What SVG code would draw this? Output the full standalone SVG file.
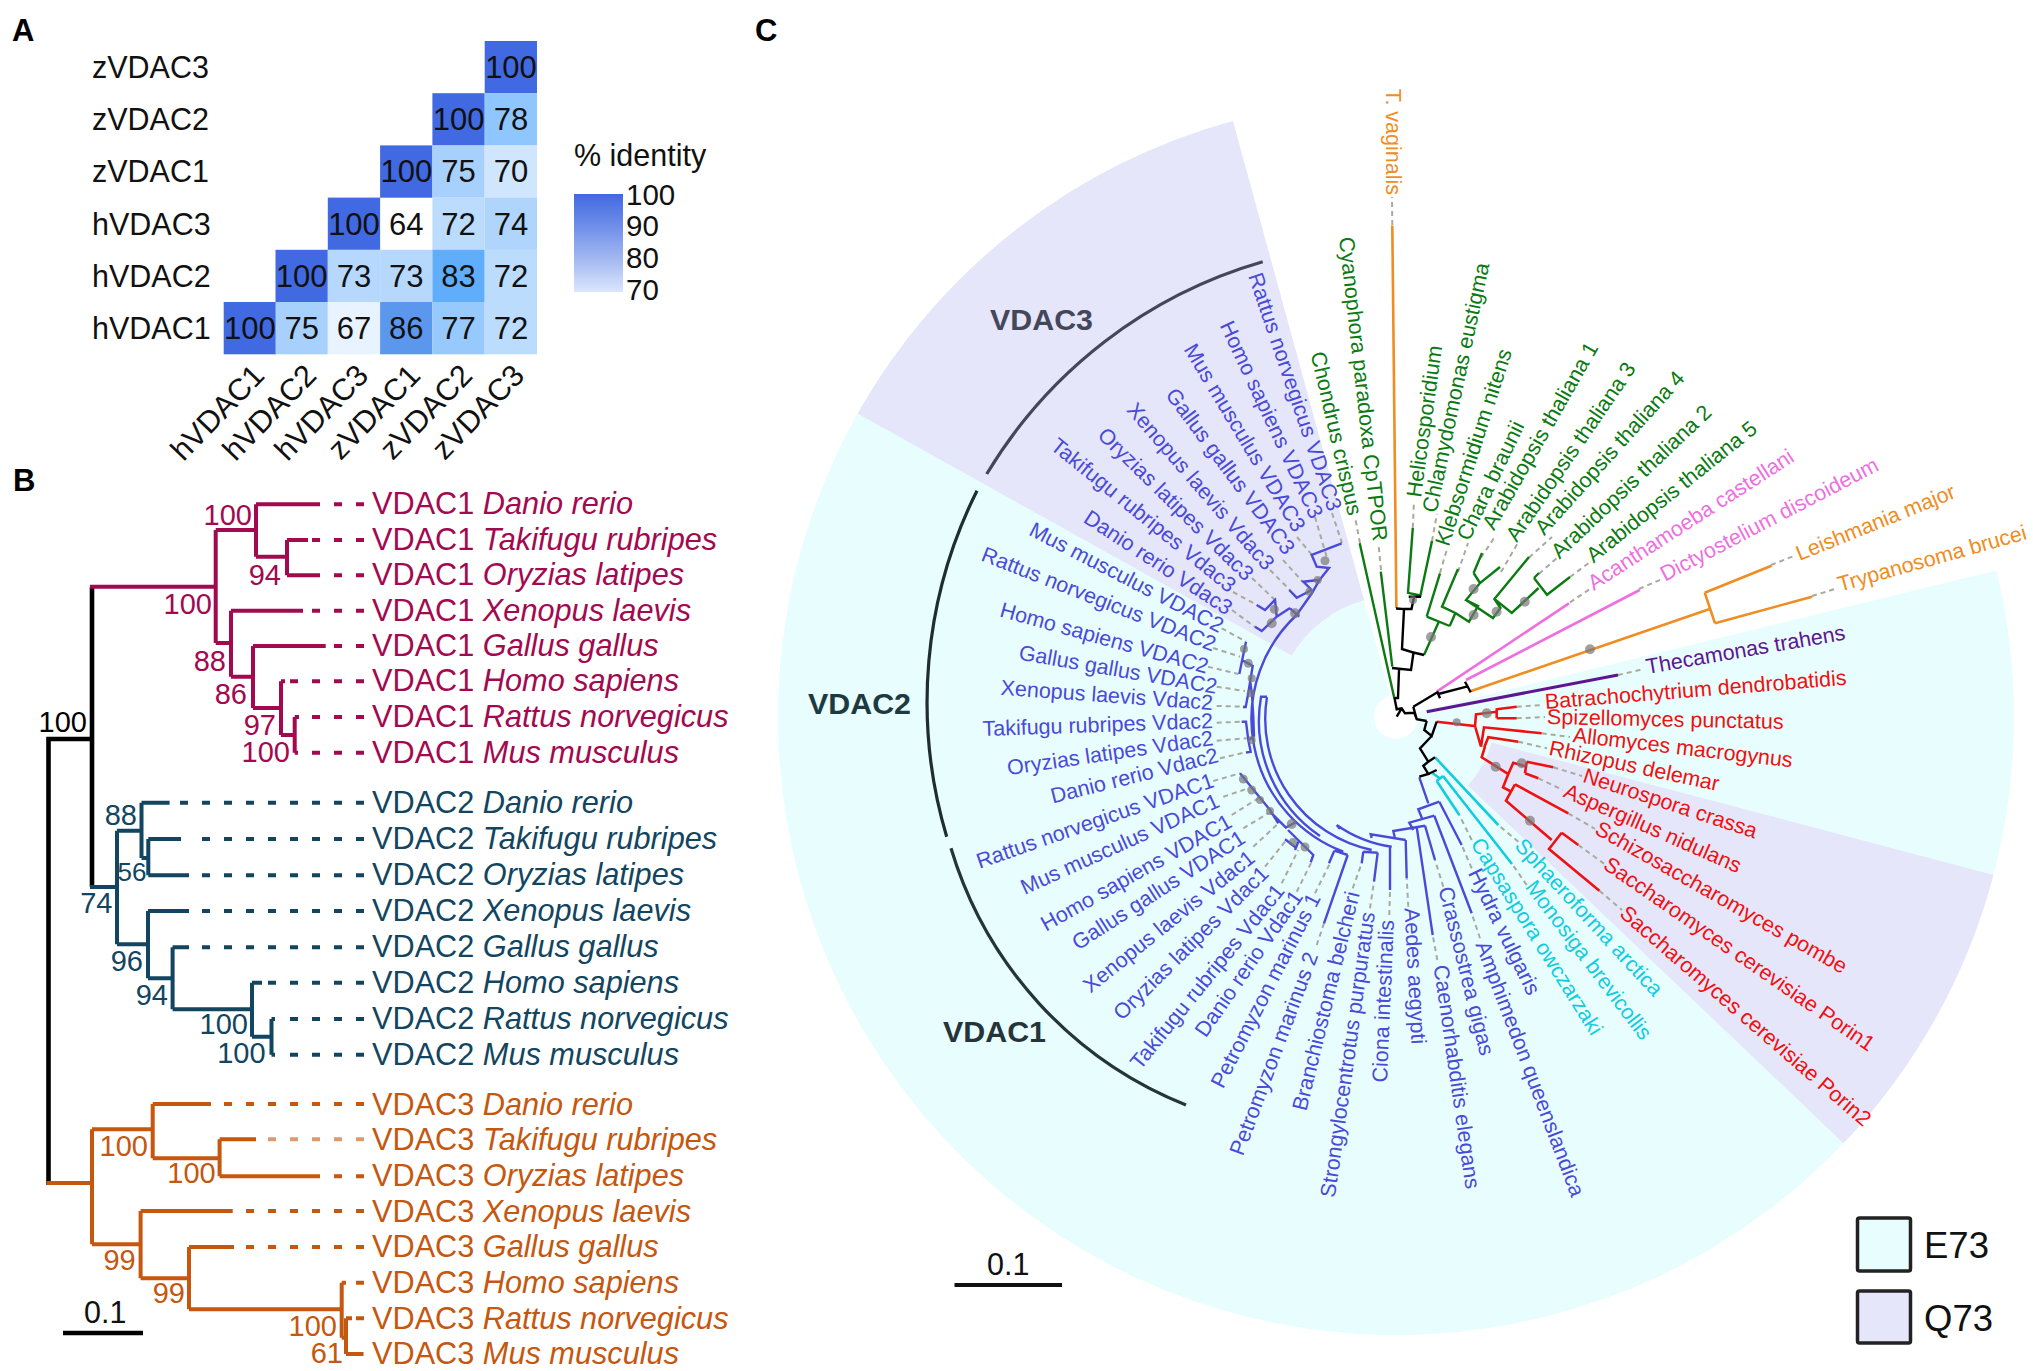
<svg xmlns="http://www.w3.org/2000/svg" width="2033" height="1371" viewBox="0 0 2033 1371">
<style>
text{font-family:"Liberation Sans",Arial,sans-serif;fill:#111}
.pl{font-size:31px;font-weight:bold;fill:#000}
.h{font-size:30.5px}
.cbl{font-size:29.5px}
.n{font-size:31px;text-anchor:middle}
.end{text-anchor:end}
.b{font-size:30.7px}
.bs{font-size:29px;text-anchor:end}
.it{font-style:italic}
.c1{fill:#a3094f}.c2{fill:#12455f}.c3{fill:#c5570f}
.s1,.s2,.s3,.s0{fill:none;stroke-width:4;stroke-linejoin:miter}
.s0{stroke:#000;stroke-width:4.6}.s1{stroke:#a3094f}.s2{stroke:#12455f}.s3{stroke:#c5570f}
.d{stroke-dasharray:8 14}
.t{font-size:21.5px;dominant-baseline:central}
.tb{fill:#4a4ad8}.tg{fill:#0b7a12}.to{fill:#ef8d22}.tp{fill:#ee6fe0}.tv{fill:#5e1590}.tr{fill:#ee1111}.tc{fill:#12ccdd}
.lb,.lg,.lo,.lp,.lv,.lr,.lc,.lk{fill:none;stroke-width:2.4}
.lb{stroke:#4a4ad8}.lg{stroke:#0b7a12}.lo{stroke:#ef8d22;stroke-width:2.6}.lp{stroke:#ee6fe0;stroke-width:2.6}.lv{stroke:#5e1590;stroke-width:3}.lr{stroke:#ee1111;stroke-width:2.6}.lc{stroke:#12ccdd;stroke-width:2.6}.lk{stroke:#000}
.ld{fill:none;stroke:#a9a99e;stroke-width:2;stroke-dasharray:5 4}
.nd{fill:#777;fill-opacity:.7}
.gl{font-size:30.4px;font-weight:bold}
</style>
<defs>
<linearGradient id="cb" x1="0" y1="0" x2="0" y2="1"><stop offset="0" stop-color="#4169e1"/><stop offset=".35" stop-color="#7391ea"/><stop offset=".7" stop-color="#a9bdf2"/><stop offset="1" stop-color="#dbe6fe"/></linearGradient>
</defs>
<rect width="2033" height="1371" fill="#fff"/>

<g id="sectors">
<path d="M1396,717 L1996.4,570.6 A618 618 0 1 1 1232.9,120.9 Z" fill="#e8fdfe"/>
<path d="M857.6,413.6 A618 618 0 0 1 1232.9,120.9 L1364.1,600.3 A121 121 0 0 0 1291.7,655.6 Z" fill="#e6e6fa"/>
<path d="M1993.5,874.9 A618 618 0 0 1 1843.5,1143.2 L1467.7,785.3 A99 99 0 0 0 1491.6,742.6 Z" fill="#e6e6fa"/>
<circle cx="1396" cy="717" r="22" fill="#fff"/>
</g>

<g id="panel-labels">
<text class="pl" x="12" y="41">A</text>
<text class="pl" x="13" y="491">B</text>
<text class="pl" x="755" y="41">C</text>
</g>

<g id="heatmap">
<rect x="484.7" y="41" width="52.3" height="52.3" fill="#4169e1"/><text class="n" x="511" y="78">100</text>
<rect x="432.4" y="93.2" width="52.3" height="52.3" fill="#4169e1"/><text class="n" x="458.6" y="130.2">100</text>
<rect x="484.7" y="93.2" width="52.3" height="52.3" fill="#90c6fe"/><text class="n" x="511" y="130.2">78</text>
<rect x="380.1" y="145.4" width="52.3" height="52.3" fill="#4169e1"/><text class="n" x="406.3" y="182.3">100</text>
<rect x="432.4" y="145.4" width="52.3" height="52.3" fill="#a8d0fc"/><text class="n" x="458.6" y="182.3">75</text>
<rect x="484.7" y="145.4" width="52.3" height="52.3" fill="#d0e5fe"/><text class="n" x="511" y="182.3">70</text>
<rect x="327.8" y="197.6" width="52.3" height="52.3" fill="#4169e1"/><text class="n" x="354" y="234.5">100</text>
<text class="n" x="406.3" y="234.5">64</text>
<rect x="432.4" y="197.6" width="52.3" height="52.3" fill="#bcdcfe"/><text class="n" x="458.6" y="234.5">72</text>
<rect x="484.7" y="197.6" width="52.3" height="52.3" fill="#b0d5fd"/><text class="n" x="511" y="234.5">74</text>
<rect x="275.5" y="249.8" width="52.3" height="52.3" fill="#4169e1"/><text class="n" x="301.7" y="286.8">100</text>
<rect x="327.8" y="249.8" width="52.3" height="52.3" fill="#b6d8fd"/><text class="n" x="354" y="286.8">73</text>
<rect x="380.1" y="249.8" width="52.3" height="52.3" fill="#b6d8fd"/><text class="n" x="406.3" y="286.8">73</text>
<rect x="432.4" y="249.8" width="52.3" height="52.3" fill="#60aefb"/><text class="n" x="458.6" y="286.8">83</text>
<rect x="484.7" y="249.8" width="52.3" height="52.3" fill="#bcdcfe"/><text class="n" x="511" y="286.8">72</text>
<rect x="223.7" y="302" width="52.3" height="52.3" fill="#4169e1"/><text class="n" x="249.8" y="339">100</text>
<rect x="275.5" y="302" width="52.3" height="52.3" fill="#a8d0fc"/><text class="n" x="301.7" y="339">75</text>
<rect x="327.8" y="302" width="52.3" height="52.3" fill="#e8f3ff"/><text class="n" x="354" y="339">67</text>
<rect x="380.1" y="302" width="52.3" height="52.3" fill="#5c97ee"/><text class="n" x="406.3" y="339">86</text>
<rect x="432.4" y="302" width="52.3" height="52.3" fill="#98c9fd"/><text class="n" x="458.6" y="339">77</text>
<rect x="484.7" y="302" width="52.3" height="52.3" fill="#bcdcfe"/><text class="n" x="511" y="339">72</text>
<text class="h" x="92" y="78">zVDAC3</text>
<text class="h" x="92" y="130.2">zVDAC2</text>
<text class="h" x="92" y="182.3">zVDAC1</text>
<text class="h" x="92" y="234.5">hVDAC3</text>
<text class="h" x="92" y="286.8">hVDAC2</text>
<text class="h" x="92" y="339">hVDAC1</text>
<text class="h end" transform="translate(266,377) rotate(-46)">hVDAC1</text>
<text class="h end" transform="translate(318,377) rotate(-46)">hVDAC2</text>
<text class="h end" transform="translate(370,377) rotate(-46)">hVDAC3</text>
<text class="h end" transform="translate(422,377) rotate(-46)">zVDAC1</text>
<text class="h end" transform="translate(474,377) rotate(-46)">zVDAC2</text>
<text class="h end" transform="translate(526,377) rotate(-46)">zVDAC3</text>
<text class="h" x="574" y="165.5">% identity</text>
<rect x="574" y="194" width="49" height="98" fill="url(#cb)"/>
<text class="cbl" x="626" y="205">100</text>
<text class="cbl" x="626" y="236">90</text>
<text class="cbl" x="626" y="268">80</text>
<text class="cbl" x="626" y="300">70</text>
</g>

<g id="connectors">
<g id="tree-b">
<path class="s0" d="M92,586.7 V887 M48.5,1185 V739 H92"/>
<path class="s1" d="M90,586.7 H215.7 M215.7,530 V643 M215.7,530 H256 M256,504.3 V556.7 M256,504.3 H320 M256,556.7 H287 M287,540 V575.3 M287,540 H308 M287,575.3 H320 M215.7,643 H231 M231,610.7 V676.7 M231,610.7 H303 M231,676.7 H253 M253,646 V708 M253,646 H325.7 M253,708 H281 M281,681.3 V735 M281,681.3 H285 M281,735 H294.7 M294.7,717 V752.7 M294.7,717 H299 M294.7,752.7 H298"/>
<path class="s1 d" d="M364,504.3 H326 M364,540 H312 M364,575.3 H326 M364,610.7 H312 M364,646 H333 M364,681.3 H290 M364,717 H312 M364,752.7 H312"/>
<path class="s2" d="M90,887 H117 M117,830.7 V944.3 M117,830.7 H141.5 M141.5,802.7 V858 M141.5,802.7 H169.6 M141.5,858 H148.3 M148.3,839 V875.3 M148.3,839 H181 M148.3,875.3 H189 M117,944.3 H148 M148,911 V978.3 M148,911 H189 M148,978.3 H172.6 M172.6,947.3 V1009.3 M172.6,947.3 H189 M172.6,1009.3 H252 M252,982.7 V1036.7 M252,982.7 H262 M252,1036.7 H271.5 M271.5,1019 V1054.7 M271.5,1019 H275 M271.5,1054.7 H275"/>
<path class="s2 d" d="M364,802.7 H176 M364,839 H198 M364,875.3 H198 M364,911 H198 M364,947.3 H198 M364,982.7 H268 M364,1019 H290 M364,1054.7 H290"/>
<path class="s3" d="M46.5,1183 H92 M92,1129.3 V1244.3 M92,1129.3 H152.7 M152.7,1104 V1158.3 M152.7,1104 H211 M152.7,1158.3 H219.6 M219.6,1139.3 V1176.3 M219.6,1139.3 H256 M219.6,1176.3 H320 M92,1244.3 H140.6 M140.6,1211 V1278.3 M140.6,1211 H232.7 M140.6,1278.3 H189 M189,1247 V1309.3 M189,1247 H234 M189,1309.3 H341.7 M341.7,1282.7 V1337.7 M341.7,1282.7 H346 M341.7,1337.7 H346 M346,1318.3 V1354 M346,1318.3 H352 M346,1354 H363.5"/>
<path class="s3 d" d="M364,1104 H224 M364,1176.3 H326 M364,1211 H246 M364,1247 H246 M364,1282.7 H356 M364,1318.3 H356"/>
<path class="s3 d" stroke-opacity=".6" d="M364,1139.3 H268"/>
<path class="s0" d="M63,1333 H143"/>
</g>

<g id="tree-c-leaders">
<path class="ld" d="M1332,513 L1342,543 M1315,517 L1327,558 M1297,537 L1312,555 M1283,560 L1303,582 M1270,570 L1290,590 M1252,578 L1275,600 M1233,592 L1257,605 M1232,610 L1255,627
M1221.7,628.3 L1246,641.7 M1213,648 L1240,656.7 M1208,666.7 L1238.3,674 M1216.7,686.7 L1245,691 M1216.7,706 L1245,706.7 M1216.7,722.7 L1241.7,721.7 M1216.7,740.7 L1246.7,738.3 M1220,758.3 L1248.3,751.7
M1213.3,781 L1240,773.3 M1223.3,796.7 L1248.3,788.3 M1231.7,815 L1258.3,798.3 M1243.3,828.3 L1268.3,813.3 M1253.3,846.7 L1276.7,825 M1265,866.7 L1285,841.7 M1281.7,883.3 L1298.3,850 M1296.7,891.7 L1311.7,861.7 M1315,893.3 L1330,863.3 M1316.7,945 L1324,923.3 M1352.7,888.3 L1361.7,863.3 M1370,908.3 L1374,881.7 M1389.3,915 L1390,890 M1408.3,906.7 L1406.7,878.3 M1437.3,960 L1432.7,935 M1443.3,886.7 L1435,860 M1480,938.3 L1471.7,913.3 M1471.7,868.3 L1461.7,845 M1471.7,840 L1459.3,815 M1526.7,885 L1511.7,863.3 M1518.3,841.7 L1498.3,825
M1516.7,706.7 L1543.3,705 M1516.7,718.3 L1545,717 M1541.7,733.3 L1570,737 M1518.3,741.7 L1547,748.3 M1553.3,767.3 L1582,776 M1538.3,778.3 L1563,790 M1568.3,813.3 L1595,829 M1578.3,845 L1604,863.6 M1599.4,890.7 L1622,910 M1618,675 L1644,669
M1812,596 L1835,589 M1771,565 L1794,556 M1639,589 L1662,579 M1570,602.4 L1590,589 M1570,577 L1590,562 M1539,573.7 L1557,558 M1529,557.6 L1552,537 M1501,572 L1519,541 M1481,557.6 L1496,535 M1458,572 L1468,543 M1440,573 L1447,549 M1432,541 L1437,514 M1412.8,527.8 L1414,501 M1381,570 L1378.6,545 M1360,543 L1355,517 M1392.3,225 L1392,197"/>
</g>

<g id="tree-c-branches">
<path class="lb" d="M1296.6,615 A142 142 0 0 0 1343.3,851.7 M1334.3,850.7 L1347.7,855 M1334.3,850.7 L1329,863.3 M1347.7,855 L1324,923.3
M1267,697 A134 134 0 0 0 1371.7,850 M1261,697 A139 139 0 0 0 1320,836 M1260,696.7 H1267
M1336.7,825 A125 125 0 0 0 1391.7,846.7 M1336.7,825 L1340,829
M1363.3,851.7 L1377.7,852.7 M1363.3,851.7 L1361.7,863.3 M1377.7,852.7 L1374,881.7 M1390,846.7 V890
M1419.3,777.3 L1428.3,803.3 M1439.3,801.7 L1418.3,809.3 L1422.7,820 M1439.3,801.7 L1461.7,845
M1434.3,815.7 L1409.3,822.7 L1413.3,830 M1434.3,815.7 L1471.7,913.3
M1425,825.7 L1393.3,831 L1395,838.3 M1425,825.7 L1435,860 M1416.7,827 L1432.7,935
M1405.7,840 L1370.7,834.3 L1371.7,838 M1405.7,840 L1406.7,878.3
M1296.6,615 L1312,593 L1319.5,580 L1329,568 L1316.7,566.7 L1311.7,555 L1341.7,543.3 M1318.3,580 L1303.3,581.7 L1311.7,590 M1311.7,590 L1296.7,597.7 L1289.3,590 M1290,608.3 L1299.3,616.7 M1290,608 L1276.7,616.7 L1261.7,631 L1255,626.7 M1276.7,616.7 L1275,600 L1265,610 L1256.7,605
M1246,641.7 L1239.3,674 M1241.7,660 L1252.7,666 L1248.3,693 L1245.7,707 H1243 M1250,680 L1252,695 L1253.3,716.7 L1254,736.7 M1241.7,721.7 H1246 L1248.3,740 L1250.7,751.7 L1246,752.7 M1248.3,740 L1254,736.7
M1240,773.3 L1270,810 L1278.3,823.3 M1270,811.7 L1286.7,828.3 M1285,828 L1296.7,821.7 M1285,839.3 L1296.7,848.3 M1288,830 L1313.3,855 L1310.7,862.3 M1298.3,841.7 L1295,850"/>
<path class="lc" d="M1435,757.3 L1498.3,825 M1432.7,773.3 L1439.7,778.3 M1443,776 L1512,864 M1436.7,781 L1443,776 M1436.7,781 L1459.3,815"/>
<path class="lr" d="M1436.7,721.7 L1475,726 L1476,714.3 L1496.7,711.7 M1496.7,708.3 V718.3 M1496.7,709.3 L1516.7,706.7 M1496.7,718.3 H1516.7 M1475,726 L1481,746.7 M1481,746.7 L1484,727.3 L1541.7,733.3 M1484.3,747.3 L1488.3,737.3 L1518.3,741.7 M1485,746.7 L1481.7,757.3 L1508.3,774 L1513.3,762.7 L1526.7,766.7 M1526.7,761.7 L1525,773.3 M1526.7,761.7 L1553.3,767.3 M1525,773.3 L1538.3,778.3 M1508.3,774 L1503,787.3 L1512,792 M1515,784.3 L1568.3,813.3 M1515,784.3 L1506,800.7 L1551.7,840 M1561.7,832.7 L1578.3,845 M1561.7,832.7 L1549,849 L1599.4,890.7"/>
<path class="lv" d="M1426.7,711.7 L1618,675"/>
<path class="lo" d="M1469,691.7 L1709,609.3 M1704.7,592.7 L1715,623.3 M1704.7,592.7 L1771.5,565.7 M1715,623.3 L1812,596.7 M1392.3,225.4 L1396.4,608"/>
<path class="lp" d="M1436.7,691.7 L1569,603.3 M1466,680 L1639.7,590"/>
<path class="lg" d="M1359.7,543.3 L1394,696.7 M1380.8,571.7 L1392.3,666.7 M1412.8,527.8 L1408,592.8 L1420.4,595.5 L1432,541 M1424,655 L1438.8,621.7 M1426.7,616.7 L1449.7,626 M1426.7,616.7 L1440,573.3 M1449.7,626 L1455.4,613 L1442,606.7 L1458,569 M1455.4,613 L1469,621.7 L1478,606 L1466,600 L1480,583 L1500,567 M1473.6,573 L1480,583 M1473.6,573 L1482,553 M1466,600 L1493,618 L1500.5,608 L1494.4,599 L1529,557 M1494.4,599 L1511.8,613 L1538.6,588 M1534,578 L1547,594.7 L1570,577 M1534,578 L1539,573"/>
<path class="lk" d="M1392,668 L1411,670 L1413.5,652.5 L1402,649 L1404,609 L1396,608.5 M1404,609 H1411.5 L1414,597 M1408.7,596.7 H1421 M1413.5,652.5 L1424,655 M1399,670 L1398,698 H1394.5 L1396.7,709.3 L1401.7,708.3 L1405,713.3 L1414.3,712.7 L1416.7,719.3 L1426.7,721 M1396.7,716.7 L1401.7,708.3 M1413.3,706.7 L1416.7,719.3 M1413.3,706.7 L1438.3,691.7 M1437.3,691.7 L1440,698.3 M1438.3,694 L1466.7,686.7 M1465,681.7 L1470.7,692.3 M1426.7,721 L1424.3,730 L1431.7,736 L1436.7,721.7 M1431.7,736 L1420,748.3 L1428.3,761.7 L1423.3,765.7 L1428.3,774 L1419.3,776.7 M1428.3,761.7 L1435,757.3 M1428.3,774 L1436.7,770"/>
<g id="tree-c-nodes" class="nd">
<circle cx="1590" cy="649.3" r="5"/><circle cx="1431" cy="637" r="5"/><circle cx="1473.6" cy="589" r="5"/><circle cx="1473.6" cy="615" r="5"/><circle cx="1496.6" cy="611.7" r="5"/><circle cx="1524.8" cy="601.7" r="5"/><circle cx="1413" cy="600" r="4"/>
<circle cx="1456.7" cy="722.3" r="4"/><circle cx="1486.7" cy="713.3" r="5"/><circle cx="1495.7" cy="766.7" r="5"/><circle cx="1521.7" cy="763.3" r="5"/><circle cx="1530" cy="820.7" r="5"/>
<circle cx="1325" cy="560.7" r="4.5"/><circle cx="1317.7" cy="580" r="4"/><circle cx="1309.3" cy="591.7" r="4"/><circle cx="1295" cy="613.3" r="5"/><circle cx="1274.3" cy="609.3" r="4.5"/><circle cx="1271.7" cy="623.3" r="5"/>
<circle cx="1244" cy="649" r="4"/><circle cx="1248.3" cy="663.3" r="4.5"/><circle cx="1251.7" cy="678.3" r="4"/><circle cx="1250.7" cy="693.3" r="4"/><circle cx="1251.7" cy="740" r="4"/>
<circle cx="1243.3" cy="779" r="4.5"/><circle cx="1251.7" cy="790" r="4.5"/><circle cx="1260" cy="800" r="4"/><circle cx="1270" cy="811" r="4"/><circle cx="1291.7" cy="824" r="5"/><circle cx="1293" cy="842" r="4"/><circle cx="1305" cy="847" r="4.5"/>
</g>
</g>

<g id="clade-arcs" fill="none" stroke-width="3.2">
<path stroke="#44475a" d="M1262.7,261.7 A475 475 0 0 0 986.7,474"/>
<path stroke="#1e2d33" d="M977,490.7 A472 472 0 0 0 946.7,836.7"/>
<path stroke="#24343a" d="M951,848.3 A400 400 0 0 0 1186,1105"/>
</g>
</g>

<g id="bootstrap-b">
<text class="bs c1" x="252" y="525">100</text><text class="bs c1" x="281" y="585">94</text><text class="bs c1" x="212" y="614">100</text><text class="bs c1" x="226" y="670.7">88</text><text class="bs c1" x="247" y="704">86</text><text class="bs c1" x="276" y="735">97</text><text class="bs c1" x="290" y="761.7">100</text>
<text class="bs" x="87" y="731.7" style="fill:#000">100</text>
<text class="bs c2" x="137" y="825">88</text><text class="bs c2" x="146.4" y="880.7" style="font-size:26px">56</text><text class="bs c2" x="112.5" y="913">74</text><text class="bs c2" x="143" y="970.7">96</text><text class="bs c2" x="168" y="1005">94</text><text class="bs c2" x="248" y="1034.3">100</text><text class="bs c2" x="265.6" y="1062.7">100</text>
<text class="bs c3" x="148" y="1156">100</text><text class="bs c3" x="215.7" y="1183">100</text><text class="bs c3" x="135.7" y="1270">99</text><text class="bs c3" x="185" y="1303.3">99</text><text class="bs c3" x="337" y="1336">100</text><text class="bs c3" x="343" y="1362.7">61</text>
<text class="h" x="84" y="1322.7">0.1</text>
</g>

<g id="leaves-b">
<g id="b1-danio"><text class="b c1" x="372" y="514.3">VDAC1 <tspan class="it">Danio rerio</tspan></text></g>
<g id="b1-takifugu"><text class="b c1" x="372" y="549.5">VDAC1 <tspan class="it">Takifugu rubripes</tspan></text></g>
<g id="b1-oryzias"><text class="b c1" x="372" y="585.3">VDAC1 <tspan class="it">Oryzias latipes</tspan></text></g>
<g id="b1-xenopus"><text class="b c1" x="372" y="620.7">VDAC1 <tspan class="it">Xenopus laevis</tspan></text></g>
<g id="b1-gallus"><text class="b c1" x="372" y="656">VDAC1 <tspan class="it">Gallus gallus</tspan></text></g>
<g id="b1-homo"><text class="b c1" x="372" y="691.3">VDAC1 <tspan class="it">Homo sapiens</tspan></text></g>
<g id="b1-rattus"><text class="b c1" x="372" y="727">VDAC1 <tspan class="it">Rattus norvegicus</tspan></text></g>
<g id="b1-mus"><text class="b c1" x="372" y="762.7">VDAC1 <tspan class="it">Mus musculus</tspan></text></g>
<g id="b2-danio"><text class="b c2" x="372" y="813.2">VDAC2 <tspan class="it">Danio rerio</tspan></text></g>
<g id="b2-takifugu"><text class="b c2" x="372" y="849">VDAC2 <tspan class="it">Takifugu rubripes</tspan></text></g>
<g id="b2-oryzias"><text class="b c2" x="372" y="885.3">VDAC2 <tspan class="it">Oryzias latipes</tspan></text></g>
<g id="b2-xenopus"><text class="b c2" x="372" y="921">VDAC2 <tspan class="it">Xenopus laevis</tspan></text></g>
<g id="b2-gallus"><text class="b c2" x="372" y="957.3">VDAC2 <tspan class="it">Gallus gallus</tspan></text></g>
<g id="b2-homo"><text class="b c2" x="372" y="992.7">VDAC2 <tspan class="it">Homo sapiens</tspan></text></g>
<g id="b2-rattus"><text class="b c2" x="372" y="1029">VDAC2 <tspan class="it">Rattus norvegicus</tspan></text></g>
<g id="b2-mus"><text class="b c2" x="372" y="1064.7">VDAC2 <tspan class="it">Mus musculus</tspan></text></g>
<g id="b3-danio"><text class="b c3" x="372" y="1114.5">VDAC3 <tspan class="it">Danio rerio</tspan></text></g>
<g id="b3-takifugu"><text class="b c3" x="372" y="1150">VDAC3 <tspan class="it">Takifugu rubripes</tspan></text></g>
<g id="b3-oryzias"><text class="b c3" x="372" y="1186.3">VDAC3 <tspan class="it">Oryzias latipes</tspan></text></g>
<g id="b3-xenopus"><text class="b c3" x="372" y="1221.5">VDAC3 <tspan class="it">Xenopus laevis</tspan></text></g>
<g id="b3-gallus"><text class="b c3" x="372" y="1257">VDAC3 <tspan class="it">Gallus gallus</tspan></text></g>
<g id="b3-homo"><text class="b c3" x="372" y="1292.7">VDAC3 <tspan class="it">Homo sapiens</tspan></text></g>
<g id="b3-rattus"><text class="b c3" x="372" y="1328.5">VDAC3 <tspan class="it">Rattus norvegicus</tspan></text></g>
<g id="b3-mus"><text class="b c3" x="372" y="1364">VDAC3 <tspan class="it">Mus musculus</tspan></text></g>
</g>

<g id="clade-labels">
<text class="gl" x="990" y="330" style="fill:#44475a">VDAC3</text>
<text class="gl" x="808" y="714" style="fill:#1c3a40">VDAC2</text>
<text class="gl" x="943" y="1041.7" style="fill:#24343a">VDAC1</text>
</g>

<g id="leaves-c">
<g id="c-rn3"><text class="t tb end" transform="translate(1335,510) rotate(71.2)">Rattus norvegicus VDAC3</text></g>
<g id="c-hs3"><text class="t tb end" transform="translate(1317,517) rotate(64.9)">Homo sapiens VDAC3</text></g>
<g id="c-mm3"><text class="t tb end" transform="translate(1300,530) rotate(59)">Mus musculus VDAC3</text></g>
<g id="c-gg3"><text class="t tb end" transform="translate(1290,552) rotate(53.4)">Gallus gallus VDAC3</text></g>
<g id="c-xl3"><text class="t tb end" transform="translate(1270,567) rotate(49.2)">Xenopus laevis Vdac3</text></g>
<g id="c-ol3"><text class="t tb end" transform="translate(1250,577) rotate(44.4)">Oryzias latipes Vdac3</text></g>
<g id="c-tr3"><text class="t tb end" transform="translate(1233,588) rotate(39)">Takifugu rubripes Vdac3</text></g>
<g id="c-dr3"><text class="t tb end" transform="translate(1230,610) rotate(33.2)">Danio rerio Vdac3</text></g>
<g id="c-mm2"><text class="t tb end" transform="translate(1222,627) rotate(27.3)">Mus musculus VDAC2</text></g>
<g id="c-rn2"><text class="t tb end" transform="translate(1215,645) rotate(21.5)">Rattus norvegicus VDAC2</text></g>
<g id="c-hs2"><text class="t tb end" transform="translate(1208,667) rotate(15.5)">Homo sapiens VDAC2</text></g>
<g id="c-gg2"><text class="t tb end" transform="translate(1217,687) rotate(9.9)">Gallus gallus VDAC2</text></g>
<g id="c-xl2"><text class="t tb end" transform="translate(1213,703) rotate(4.1)">Xenopus laevis Vdac2</text></g>
<g id="c-tr2"><text class="t tb end" transform="translate(1213,721) rotate(-2)">Takifugu rubripes Vdac2</text></g>
<g id="c-ol2"><text class="t tb end" transform="translate(1213,738) rotate(-8.4)">Oryzias latipes Vdac2</text></g>
<g id="c-dr2"><text class="t tb end" transform="translate(1218,755) rotate(-14)">Danio rerio Vdac2</text></g>
<g id="c-rn1"><text class="t tb end" transform="translate(1213,780) rotate(-19.2)">Rattus norvegicus VDAC1</text></g>
<g id="c-mm1"><text class="t tb end" transform="translate(1218,800) rotate(-24.3)">Mus musculus VDAC1</text></g>
<g id="c-hs1"><text class="t tb end" transform="translate(1230,820) rotate(-29.4)">Homo sapiens VDAC1</text></g>
<g id="c-gg1"><text class="t tb end" transform="translate(1243,836) rotate(-32.8)">Gallus gallus VDAC1</text></g>
<g id="c-xl1"><text class="t tb end" transform="translate(1252,855) rotate(-38.8)">Xenopus laevis Vdac1</text></g>
<g id="c-ol1"><text class="t tb end" transform="translate(1265,870) rotate(-44.7)">Oryzias latipes Vdac1</text></g>
<g id="c-tr1"><text class="t tb end" transform="translate(1280,887) rotate(-51)">Takifugu rubripes Vdac1</text></g>
<g id="c-dr1"><text class="t tb end" transform="translate(1298,893) rotate(-55.3)">Danio rerio Vdac1</text></g>
<g id="c-pm1"><text class="t tb end" transform="translate(1315,895) rotate(-62.8)">Petromyzon marinus 1</text></g>
<g id="c-pm2"><text class="t tb end" transform="translate(1312,953) rotate(-69.4)">Petromyzon marinus 2</text></g>
<g id="c-bb"><text class="t tb end" transform="translate(1353,892) rotate(-76.2)">Branchiostoma belcheri</text></g>
<g id="c-sp"><text class="t tb end" transform="translate(1368,912) rotate(-82)">Strongylocentrotus purpuratus</text></g>
<g id="c-ci"><text class="t tb end" transform="translate(1387,920) rotate(-87.5)">Ciona intestinalis</text></g>
<g id="c-aa"><text class="t tb" transform="translate(1411.4,908) rotate(87)">Aedes aegypti</text></g>
<g id="c-ce"><text class="t tb" transform="translate(1440.5,965) rotate(81.8)">Caenorhabditis elegans</text></g>
<g id="c-cg"><text class="t tb" transform="translate(1445,887) rotate(75.9)">Crassostrea gigas</text></g>
<g id="c-aq"><text class="t tb" transform="translate(1481.7,942) rotate(69.2)">Amphimedon queenslandica</text></g>
<g id="c-hv"><text class="t tb" transform="translate(1474,870) rotate(64)">Hydra vulgaris</text></g>
<g id="c-co"><text class="t tc" transform="translate(1475.8,840) rotate(57.8)">Capsaspora owczarzaki</text></g>
<g id="c-mb"><text class="t tc" transform="translate(1530,883) rotate(52.8)">Monosiga brevicollis</text></g>
<g id="c-sa"><text class="t tc" transform="translate(1519,842) rotate(47.2)">Sphaeroforma arctica</text></g>
<g id="c-p2"><text class="t tr" transform="translate(1623,910) rotate(40.9)">Saccharomyces cerevisiae Porin2</text></g>
<g id="c-p1"><text class="t tr" transform="translate(1606,862) rotate(34.7)">Saccharomyces cerevisiae Porin1</text></g>
<g id="c-sz"><text class="t tr" transform="translate(1597,827) rotate(29.6)">Schizosaccharomyces pombe</text></g>
<g id="c-an"><text class="t tr" transform="translate(1565,790) rotate(23.7)">Aspergillus nidulans</text></g>
<g id="c-nc"><text class="t tr" transform="translate(1584,775) rotate(18.2)">Neurospora crassa</text></g>
<g id="c-rd"><text class="t tr" transform="translate(1549.5,748) rotate(12)">Rhizopus delemar</text></g>
<g id="c-am"><text class="t tr" transform="translate(1573,735) rotate(6.6)">Allomyces macrogynus</text></g>
<g id="c-spz"><text class="t tr" transform="translate(1547,717) rotate(1.2)">Spizellomyces punctatus</text></g>
<g id="c-bd"><text class="t tr" transform="translate(1545,702) rotate(-4.6)">Batrachochytrium dendrobatidis</text></g>
<g id="c-tt"><text class="t tv" transform="translate(1646,667) rotate(-9.8)">Thecamonas trahens</text></g>
<g id="c-tb"><text class="t to" transform="translate(1838,585) rotate(-15.7)">Trypanosoma brucei</text></g>
<g id="c-lm"><text class="t to" transform="translate(1797,554.5) rotate(-22)">Leishmania major</text></g>
<g id="c-dd"><text class="t tp" transform="translate(1661.7,575.6) rotate(-27.5)">Dictyostelium discoideum</text></g>
<g id="c-ac"><text class="t tp" transform="translate(1590,585) rotate(-32.9)">Acanthamoeba castellani</text></g>
<g id="c-at5"><text class="t tg" transform="translate(1589,558) rotate(-38.7)">Arabidopsis thaliana 5</text></g>
<g id="c-at2"><text class="t tg" transform="translate(1554.6,554.6) rotate(-43.5)">Arabidopsis thaliana 2</text></g>
<g id="c-at4"><text class="t tg" transform="translate(1539,531.6) rotate(-48)">Arabidopsis thaliana 4</text></g>
<g id="c-at3"><text class="t tg" transform="translate(1511,539) rotate(-55.5)">Arabidopsis thaliana 3</text></g>
<g id="c-at1"><text class="t tg" transform="translate(1488,527.8) rotate(-60.3)">Arabidopsis thaliana 1</text></g>
<g id="c-cb"><text class="t tg" transform="translate(1463,539) rotate(-64.5)">Chara braunii</text></g>
<g id="c-kn"><text class="t tg" transform="translate(1442,545) rotate(-72)">Klebsormidium nitens</text></g>
<g id="c-ch"><text class="t tg" transform="translate(1429.6,512) rotate(-78)">Chlamydomonas eustigma</text></g>
<g id="c-he"><text class="t tg" transform="translate(1414,497) rotate(-82)">Helicosporidium</text></g>
<g id="c-tv"><text class="t to end" transform="translate(1392.5,195) rotate(90)">T. vaginalis</text></g>
<g id="c-cp"><text class="t tg end" transform="translate(1380,541) rotate(83.6)">Cyanophora paradoxa CpTPOR</text></g>
<g id="c-cc"><text class="t tg end" transform="translate(1355,515) rotate(77)">Chondrus crispus</text></g>
</g>

<g id="scale-c">
<path d="M954.5,1285 H1062" stroke="#111" stroke-width="4" fill="none"/>
<text class="h" x="987" y="1275">0.1</text>
</g>

<g id="legend">
<g id="legend-e73"><rect x="1857.5" y="1218" width="53" height="53" rx="2" fill="#e8fdfe" stroke="#222" stroke-width="3.5"/><text x="1924" y="1258" style="font-size:36.5px">E73</text></g>
<g id="legend-q73"><rect x="1857.5" y="1291" width="53" height="52" rx="2" fill="#e6e6fa" stroke="#222" stroke-width="3.5"/><text x="1924" y="1330.5" style="font-size:36.5px">Q73</text></g>
</g>
</svg>
